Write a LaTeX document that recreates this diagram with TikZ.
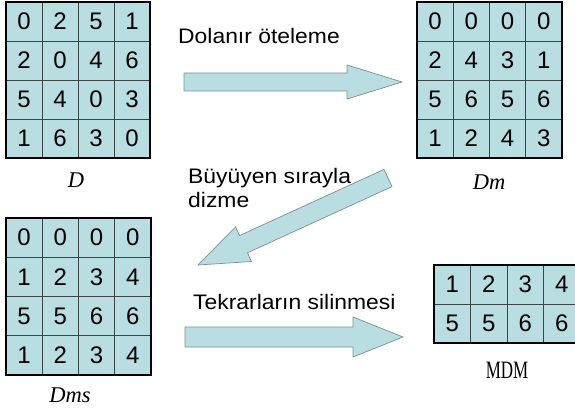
\documentclass[tikz,border=0pt]{standalone}
\usepackage{fontspec}
\setmainfont{Liberation Sans}
\newfontfamily\tnr{Liberation Serif}
\definecolor{cellfill}{HTML}{B9DEE2}
\definecolor{gridc}{HTML}{3C4446}
\definecolor{arrowfill}{HTML}{B9DEE2}
\definecolor{arrowedge}{HTML}{7F8E90}
\tikzset{
  cellnum/.style={font=\fontsize{24}{24}\selectfont, inner sep=0pt},
  gridline/.style={draw=gridc, line width=0.8pt},
  border/.style={draw=black, line width=1.8pt},
  blockarrow/.style={fill=arrowfill, draw=arrowedge, line width=0.7pt, line join=miter},
  steptext/.style={anchor=base west, font=\fontsize{21}{21}\selectfont, inner sep=0pt},
  matlabel/.style={font=\tnr\itshape\fontsize{22.5}{22.5}\selectfont, inner sep=0pt},
}
\newcommand\wide[1]{\scalebox{1.09}[1]{#1}}
% #1 name, #2 x0, #3 y0, #4 cell w, #5 cell h, #6 ncols, #7 nrows, #8 rows
\newcommand\mymatrix[8]{%
  \fill[cellfill] (#2,#3) rectangle ++(#6*#4,#7*#5);
  \foreach \i in {1,...,\numexpr#6-1\relax}{\draw[gridline] (#2+\i*#4,#3) -- ++(0,#7*#5);}
  \foreach \j in {1,...,\numexpr#7-1\relax}{\draw[gridline] (#2,#3+\j*#5) -- ++(#6*#4,0);}
  \draw[border] (#2,#3) rectangle ++(#6*#4,#7*#5);
  \foreach \r/\row in {#8}{%
    \foreach \v [count=\c from 0] in \row {%
      \node[cellnum] (#1-\r-\c) at (#2+\c*#4+0.5*#4, #3+\r*#5+0.5*#5) {\v};
    }%
  }%
}
\begin{document}
\begin{tikzpicture}[x=1pt,y=-1pt]
\useasboundingbox (0,0) rectangle (575,411);
\begin{scope}
\clip (0,0) rectangle (575,411);
\mymatrix{D}{6}{2}{36}{39}{4}{4}{0/{0,2,5,1},1/{2,0,4,6},2/{5,4,0,3},3/{1,6,3,0}}
\mymatrix{Dm}{417}{2}{36.25}{39}{4}{4}{0/{0,0,0,0},1/{2,4,3,1},2/{5,6,5,6},3/{1,2,4,3}}
\mymatrix{Dms}{6}{218}{36.25}{39.25}{4}{4}{0/{0,0,0,0},1/{1,2,3,4},2/{5,5,6,6},3/{1,2,3,4}}
\mymatrix{MDM}{434}{265}{36.5}{39}{4}{2}{0/{1,2,3,4},1/{5,5,6,6}}
\end{scope}

\node[matlabel] (lD) at (76,180) {D};
\node[matlabel] (lDm) at (489,182) {Dm};
\node[matlabel] (lDms) at (70,395) {Dms};
\node[font=\tnr\fontsize{25}{25}\selectfont, inner sep=0pt] (lMDM) at (507,370) {\scalebox{0.68}[1]{MDM}};

% arrows
\draw[blockarrow] (184,73) -- (347,73) -- (347,65) -- (402,82) -- (347,99) -- (347,91) -- (184,91) -- cycle;
\draw[blockarrow] (392.0,186.6) -- (384.0,169.4) -- (239.5,235.6) -- (235.6,226.9) -- (198,265) -- (251.4,261.5) -- (247.5,252.8) -- cycle;
\draw[blockarrow] (185,327) -- (353,327) -- (353,317) -- (403,337) -- (353,357) -- (353,347) -- (185,347) -- cycle;

\node[steptext] (t1) at (178,44) {\wide{Dolanır öteleme}};
\node[steptext] (t2) at (188,184) {\wide{Büyüyen sırayla}};
\node[steptext] (t3) at (188,207.3) {\wide{dizme}};
\node[steptext] (t4) at (193,309) {\wide{Tekrarların silinmesi}};
\end{tikzpicture}
\end{document}
